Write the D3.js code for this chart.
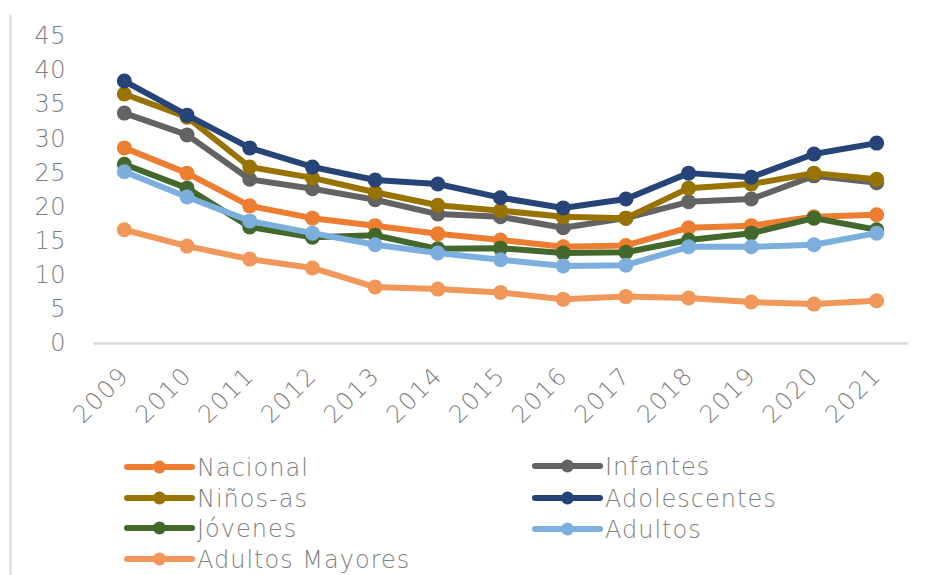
<!DOCTYPE html>
<html>
<head>
<meta charset="utf-8">
<script src="https://cdn.jsdelivr.net/npm/d3@7"></script>
<style>
  html, body { margin: 0; padding: 0; background: #ffffff; }
  svg { display: block; }
  text { font-family: "DejaVu Sans", "Noto Sans", sans-serif; fill: #7f7f7f; }
</style>
</head>
<body>
<svg id="chart" width="927" height="575"></svg>
<script>
const years = ["2009","2010","2011","2012","2013","2014","2015","2016","2017","2018","2019","2020","2021"];
const yTicks = [0,5,10,15,20,25,30,35,40,45];

const seriesNames = ["Nacional","Infantes","Niños-as","Adolescentes","Jóvenes","Adultos","Adultos Mayores"];
const seriesColors = ["#ED7D31","#636363","#997300","#264478","#43682B","#7CAFDD","#F1975A"];

const nacional       = [28.6, 24.9, 20.1, 18.3, 17.2, 16.0, 15.1, 14.1, 14.3, 16.9, 17.2, 18.5, 18.8];
const infantes       = [33.7, 30.5, 24.0, 22.6, 21.0, 18.9, 18.5, 16.9, 18.3, 20.7, 21.1, 24.5, 23.5];
const ninosAs        = [36.5, 33.1, 25.8, 24.2, 22.1, 20.2, 19.4, 18.5, 18.3, 22.7, 23.3, 24.9, 24.0];
const adolescentes   = [38.4, 33.4, 28.6, 25.8, 23.9, 23.3, 21.3, 19.8, 21.1, 24.9, 24.3, 27.7, 29.3];
const jovenes        = [26.2, 22.7, 17.0, 15.5, 15.8, 13.8, 13.9, 13.2, 13.3, 15.1, 16.1, 18.3, 16.6];
const adultos        = [25.1, 21.4, 17.9, 16.1, 14.4, 13.2, 12.2, 11.3, 11.4, 14.1, 14.1, 14.4, 16.1];
const adultosMayores = [16.6, 14.2, 12.3, 11.0, 8.2, 7.9, 7.4, 6.4, 6.8, 6.6, 6.0, 5.7, 6.2];

const seriesValues = [nacional, infantes, ninosAs, adolescentes, jovenes, adultos, adultosMayores];
const series = seriesNames.map((n, i) => ({ name: n, color: seriesColors[i], values: seriesValues[i] }));

const svg = d3.select("#chart");

// frame left border
svg.append("line")
  .attr("x1", 10.5).attr("x2", 10.5).attr("y1", 15).attr("y2", 575)
  .attr("stroke", "#d9d9d9").attr("stroke-width", 2);

const x = d3.scaleBand().domain(years).range([93, 908]).padding(0);
const y = d3.scaleLinear().domain([0, 45]).range([343, 36]);
const cx = d => x(d) + x.bandwidth() / 2;

// x axis baseline
svg.append("g")
  .attr("transform", "translate(0,343)")
  .call(d3.axisBottom(x).tickSize(0).tickFormat(""))
  .call(g => g.select(".domain").attr("stroke", "#d9d9d9").attr("stroke-width", 2.5));

// y tick labels
const yAxis = svg.append("g")
  .attr("transform", "translate(66,0)")
  .call(d3.axisLeft(y).tickValues(yTicks).tickSize(0).tickPadding(0));
yAxis.select(".domain").remove();
yAxis.selectAll("text")
  .style("font-family", "\"DejaVu Sans\", sans-serif")
  .style("font-size", "24px")
  .style("font-weight", "300")
  .style("letter-spacing", "0.5px")
  .attr("fill", "#7f7f7f");

// x tick labels rotated
svg.append("g").selectAll("text")
  .data(years)
  .join("text")
  .attr("transform", d => `translate(${cx(d) + 6},${377}) rotate(-45)`)
  .attr("text-anchor", "end")
  .style("font-size", "24px")
  .style("font-weight", "300")
  .style("letter-spacing", "1.5px")
  .text(d => d);

// lines
const line = d3.line()
  .x((v, i) => cx(years[i]))
  .y(v => y(v));

const g = svg.append("g");
series.forEach(s => {
  const sg = g.append("g");
  sg.append("path")
    .datum(s.values)
    .attr("d", line)
    .attr("fill", "none")
    .attr("stroke", s.color)
    .attr("stroke-width", 6)
    .attr("stroke-linejoin", "round");
  sg.selectAll("circle")
    .data(s.values)
    .join("circle")
    .attr("cx", (v, i) => cx(years[i]))
    .attr("cy", v => y(v))
    .attr("r", 7.5)
    .attr("fill", s.color);
});

// legend
const legendPos = [
  [127, 467], [535, 466],
  [127, 498], [535, 498],
  [127, 528], [535, 529],
  [127, 559]
];
const lg = svg.append("g");
series.forEach((s, i) => {
  const [lx, ly] = legendPos[i];
  const item = lg.append("g").attr("transform", `translate(${lx},${ly})`);
  item.append("line")
    .attr("x1", 0).attr("x2", 65).attr("y1", 0).attr("y2", 0)
    .attr("stroke", s.color).attr("stroke-width", 6).attr("stroke-linecap", "round");
  item.append("circle").attr("cx", 32.5).attr("cy", 0).attr("r", 6.5).attr("fill", s.color);
  item.append("text")
    .attr("x", 70).attr("y", 0).attr("dy", "0.36em")
    .style("font-size", "24px")
    .style("font-weight", "300")
    .style("letter-spacing", "1px")
    .text(s.name);
});
</script>
</body>
</html>
